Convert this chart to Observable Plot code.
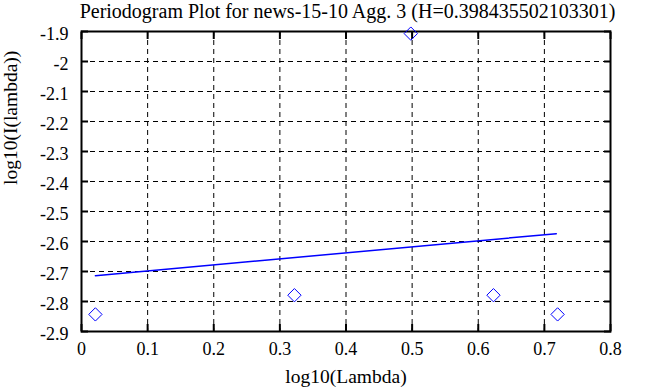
<!DOCTYPE html>
<html><head><meta charset="utf-8">
<script src="https://cdn.jsdelivr.net/npm/d3@7"></script>
<script src="https://cdn.jsdelivr.net/npm/@observablehq/plot@0.6"></script>
<style>
html,body{margin:0;padding:0;background:#fff}
svg{display:block}
svg, svg text{font-family:"Liberation Serif","Times New Roman",Times,serif !important}
</style>
</head><body><div id="chart"></div>
<script>
const title = "Periodogram Plot for news-15-10 Agg. 3 (H=0.398435502103301)";
const xLabel = "log10(Lambda)";
const yLabel = "log10(I(lambda))";
const logLambda = [0.021, 0.322, 0.498, 0.623, 0.720];
const logI = [-2.843, -2.779, -1.907, -2.779, -2.843];
const fitX = [0.021, 0.718];
const fitY = [-2.714, -2.574];
const xTicks = [0, 0.1, 0.2, 0.3, 0.4, 0.5, 0.6, 0.7, 0.8];
const yTicks = [-2.9, -2.8, -2.7, -2.6, -2.5, -2.4, -2.3, -2.2, -2.1, -2, -1.9];

const points = logLambda.map((x, i) => ({x, y: logI[i]}));
const fit = fitX.map((x, i) => ({x, y: fitY[i]}));
const fmt = d => String(d);
const serif = "Liberation Serif";

const plot = Plot.plot({
  width: 653, height: 387,
  marginLeft: 81, marginRight: 43, marginTop: 31, marginBottom: 56,
  x: {domain: [0, 0.8]},
  y: {domain: [-2.9, -1.9]},
  style: {fontSize: "18px", background: "white", color: "black"},
  marks: [
    Plot.gridX(xTicks.slice(1, -1), {stroke: "black", strokeOpacity: 1, strokeWidth: 1, strokeDasharray: "5,4"}),
    Plot.gridY(yTicks.slice(1, -1), {stroke: "black", strokeOpacity: 1, strokeWidth: 1, strokeDasharray: "5,4"}),
    Plot.axisX(xTicks, {anchor: "bottom", tickSize: -7, tickFormat: () => "", label: null, strokeWidth: 2}),
    Plot.axisX(xTicks, {anchor: "top", tickSize: -7, tickFormat: () => "", label: null, strokeWidth: 2}),
    Plot.axisY(yTicks, {anchor: "left", tickSize: -7, tickFormat: () => "", label: null, strokeWidth: 2}),
    Plot.axisY(yTicks, {anchor: "right", tickSize: -7, tickFormat: () => "", label: null, strokeWidth: 2}),
    Plot.axisX(xTicks, {anchor: "bottom", tickSize: 0, tickPadding: 11, tickFormat: fmt, label: null, fill: "black", fontSize: 18, fontFamily: serif, fontVariant: "normal"}),
    Plot.axisY(yTicks, {anchor: "left", tickSize: 0, tickPadding: 13, dy: 3, tickFormat: fmt, label: null, fill: "black", fontSize: 18, fontFamily: serif, fontVariant: "normal"}),
    Plot.frame({stroke: "black", strokeWidth: 2}),
    Plot.line(fit, {x: "x", y: "y", stroke: "#0000ff", strokeWidth: 1.5}),
    Plot.dot(points, {x: "x", y: "y", symbol: "diamond2", r: 6, stroke: "#0000ff", fill: "none", strokeWidth: 1}),
    Plot.text([xLabel], {text: d => d, frameAnchor: "bottom", dy: 45, lineAnchor: "middle", fill: "black", fontSize: 19.5, fontFamily: serif}),
    Plot.text([yLabel], {text: d => d, frameAnchor: "left", dx: -71, dy: 3.5, rotate: -90, lineAnchor: "middle", fill: "black", fontSize: 19.5, fontFamily: serif}),
    Plot.text([title], {text: d => d, frameAnchor: "top", dx: 1.5, dy: -19.5, lineAnchor: "middle", fill: "black", fontSize: 20, fontFamily: serif})
  ]
});
document.getElementById("chart").appendChild(plot);
</script>
</body></html>
